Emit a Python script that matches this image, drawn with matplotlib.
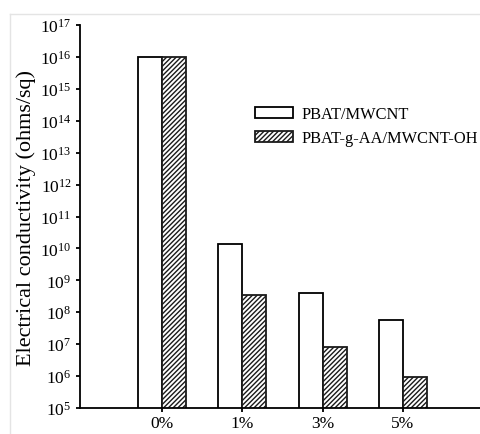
import numpy as np
import matplotlib.pyplot as plt
from matplotlib.lines import Line2D

plt.rcParams['font.family'] = 'Liberation Serif'
plt.rcParams['mathtext.fontset'] = 'custom'
plt.rcParams['mathtext.rm'] = 'Liberation Serif'
plt.rcParams['mathtext.it'] = 'Liberation Serif:italic'
plt.rcParams['hatch.linewidth'] = 1.0

categories = ['0%', '1%', '3%', '5%']
pbat_mwcnt = [1.0e16, 1.4e10, 4.0e8, 5.8e7]
pbat_g_aa = [1.0e16, 3.5e8, 8.0e6, 9.5e5]

fig = plt.figure(figsize=(4.81, 4.35), dpi=100)
ax = fig.add_axes([0.166, 0.060, 0.834, 0.880])

x = np.arange(len(categories))
w = 0.30
ax.bar(x - w / 2, pbat_mwcnt, w, color='white', edgecolor='black',
       linewidth=1.3, label='PBAT/MWCNT')
ax.bar(x + w / 2, pbat_g_aa, w, color='white', edgecolor='#1a1a1a',
       hatch='///////', linewidth=1.3, label='PBAT-g-AA/MWCNT-OH')

ax.set_yscale('log')
ax.set_ylim(1e5, 1e17)
ax.set_xlim(-1.02, 3.97)
ax.set_yticks([10.0 ** k for k in range(5, 18)])
ax.set_yticklabels([r'$\mathregular{10^{%d}}$' % k for k in range(5, 18)], fontsize=12.5)
ax.yaxis.set_minor_locator(plt.NullLocator())
ax.set_xticks(x)
ax.set_xticklabels(categories, fontsize=12.5)
ax.tick_params(axis='both', direction='out', length=3, width=1.3, pad=2)
ax.tick_params(axis='y', pad=3)

for s in ['top', 'right']:
    ax.spines[s].set_visible(False)
for s in ['left', 'bottom']:
    ax.spines[s].set_linewidth(1.3)

ax.set_ylabel('Electrical conductivity (ohms/sq)', fontsize=16, labelpad=3)

ax.legend(loc='upper left', bbox_to_anchor=(0.42, 0.805), frameon=False, fontsize=11.8,
          handlelength=2.3, handleheight=0.7, handletextpad=0.55, labelspacing=0.5,
          borderaxespad=0)

# faint frame of the original scan
fig.add_artist(Line2D([0.021, 1.0], [0.966, 0.966], color='#e4e4e4', lw=1))
fig.add_artist(Line2D([0.021, 0.021], [0.0, 0.966], color='#e4e4e4', lw=1))

fig.savefig('out.png', dpi=100)
